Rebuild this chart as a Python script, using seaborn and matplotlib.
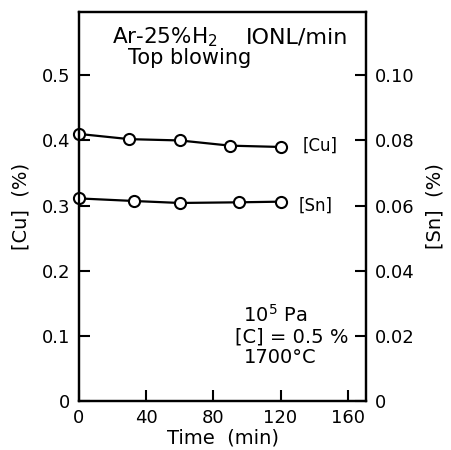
import matplotlib
matplotlib.use("Agg")
import matplotlib.pyplot as plt
import seaborn as sns
import pandas as pd

# data
cu_time = [0, 30, 60, 90, 120]
cu_vals = [0.410, 0.402, 0.400, 0.392, 0.390]
sn_time = [0, 33, 60, 95, 120]
sn_vals = [0.0622, 0.0614, 0.0608, 0.0610, 0.0612]  # right axis units
x_ticks = [0, 40, 80, 120, 160]
left_ticks = [0, 0.1, 0.2, 0.3, 0.4, 0.5]
left_labels = ["0", "0.1", "0.2", "0.3", "0.4", "0.5"]
right_ticks = [0, 0.02, 0.04, 0.06, 0.08, 0.10]
right_labels = ["0", "0.02", "0.04", "0.06", "0.08", "0.10"]

sns.set_theme(style="ticks")
plt.rcParams['font.family'] = ['DejaVu Sans']
plt.rcParams['text.color'] = 'black'
plt.rcParams['axes.labelcolor'] = 'black'

fig = plt.figure(figsize=(4.51, 4.5), dpi=100)
ax = fig.add_axes([0.175, 0.109, 0.637, 0.864])
ax2 = ax.twinx()

df_cu = pd.DataFrame({"t": cu_time, "v": cu_vals})
df_sn = pd.DataFrame({"t": sn_time, "v": sn_vals})

mk = dict(marker="o", markersize=8, markerfacecolor="white",
          markeredgecolor="black", markeredgewidth=1.5, clip_on=False)
sns.lineplot(data=df_cu, x="t", y="v", ax=ax, color="black", lw=1.6, **mk)
sns.lineplot(data=df_sn, x="t", y="v", ax=ax2, color="black", lw=1.6, **mk)

ax.set_xlim(0, 171)
ax.set_ylim(0, 0.597)
ax2.set_ylim(0, 0.597 * 0.2)

fs = 13
ax.set_xticks(x_ticks)
ax.set_xticklabels([str(v) for v in x_ticks], fontsize=fs)
ax.set_yticks(left_ticks)
ax.set_yticklabels(left_labels, fontsize=fs)
ax2.set_yticks(right_ticks)
ax2.set_yticklabels(right_labels, fontsize=fs)

for a in (ax, ax2):
    for s in a.spines.values():
        s.set_linewidth(1.6)
        s.set_color("black")
    a.tick_params(direction="in", length=8, width=1.5, colors="black",
                  labelcolor="black", pad=6)

ax.set_xlabel("Time  (min)", fontsize=14, labelpad=1)
ax.set_ylabel("[Cu]  (%)", fontsize=14, labelpad=8)
ax2.set_ylabel("[Sn]  (%)", fontsize=14, rotation=90, labelpad=8)

ax.text(19.6, 0.558, "Ar-25%H$_2$", fontsize=15.5, va="center")
ax.text(99.5, 0.558, "IONL/min", fontsize=16, va="center")
ax.text(29, 0.527, "Top blowing", fontsize=15, va="center")
ax.text(133, 0.392, "[Cu]", fontsize=12, va="center")
ax.text(131, 0.300, "[Sn]", fontsize=12, va="center")
ax.text(97.6, 0.132, "10$^5$ Pa", fontsize=14, va="center")
ax.text(92.9, 0.098, "[C] = 0.5 %", fontsize=14, va="center")
ax.text(98, 0.066, "1700°C", fontsize=14, va="center")

fig.savefig("out.png", dpi=100)
